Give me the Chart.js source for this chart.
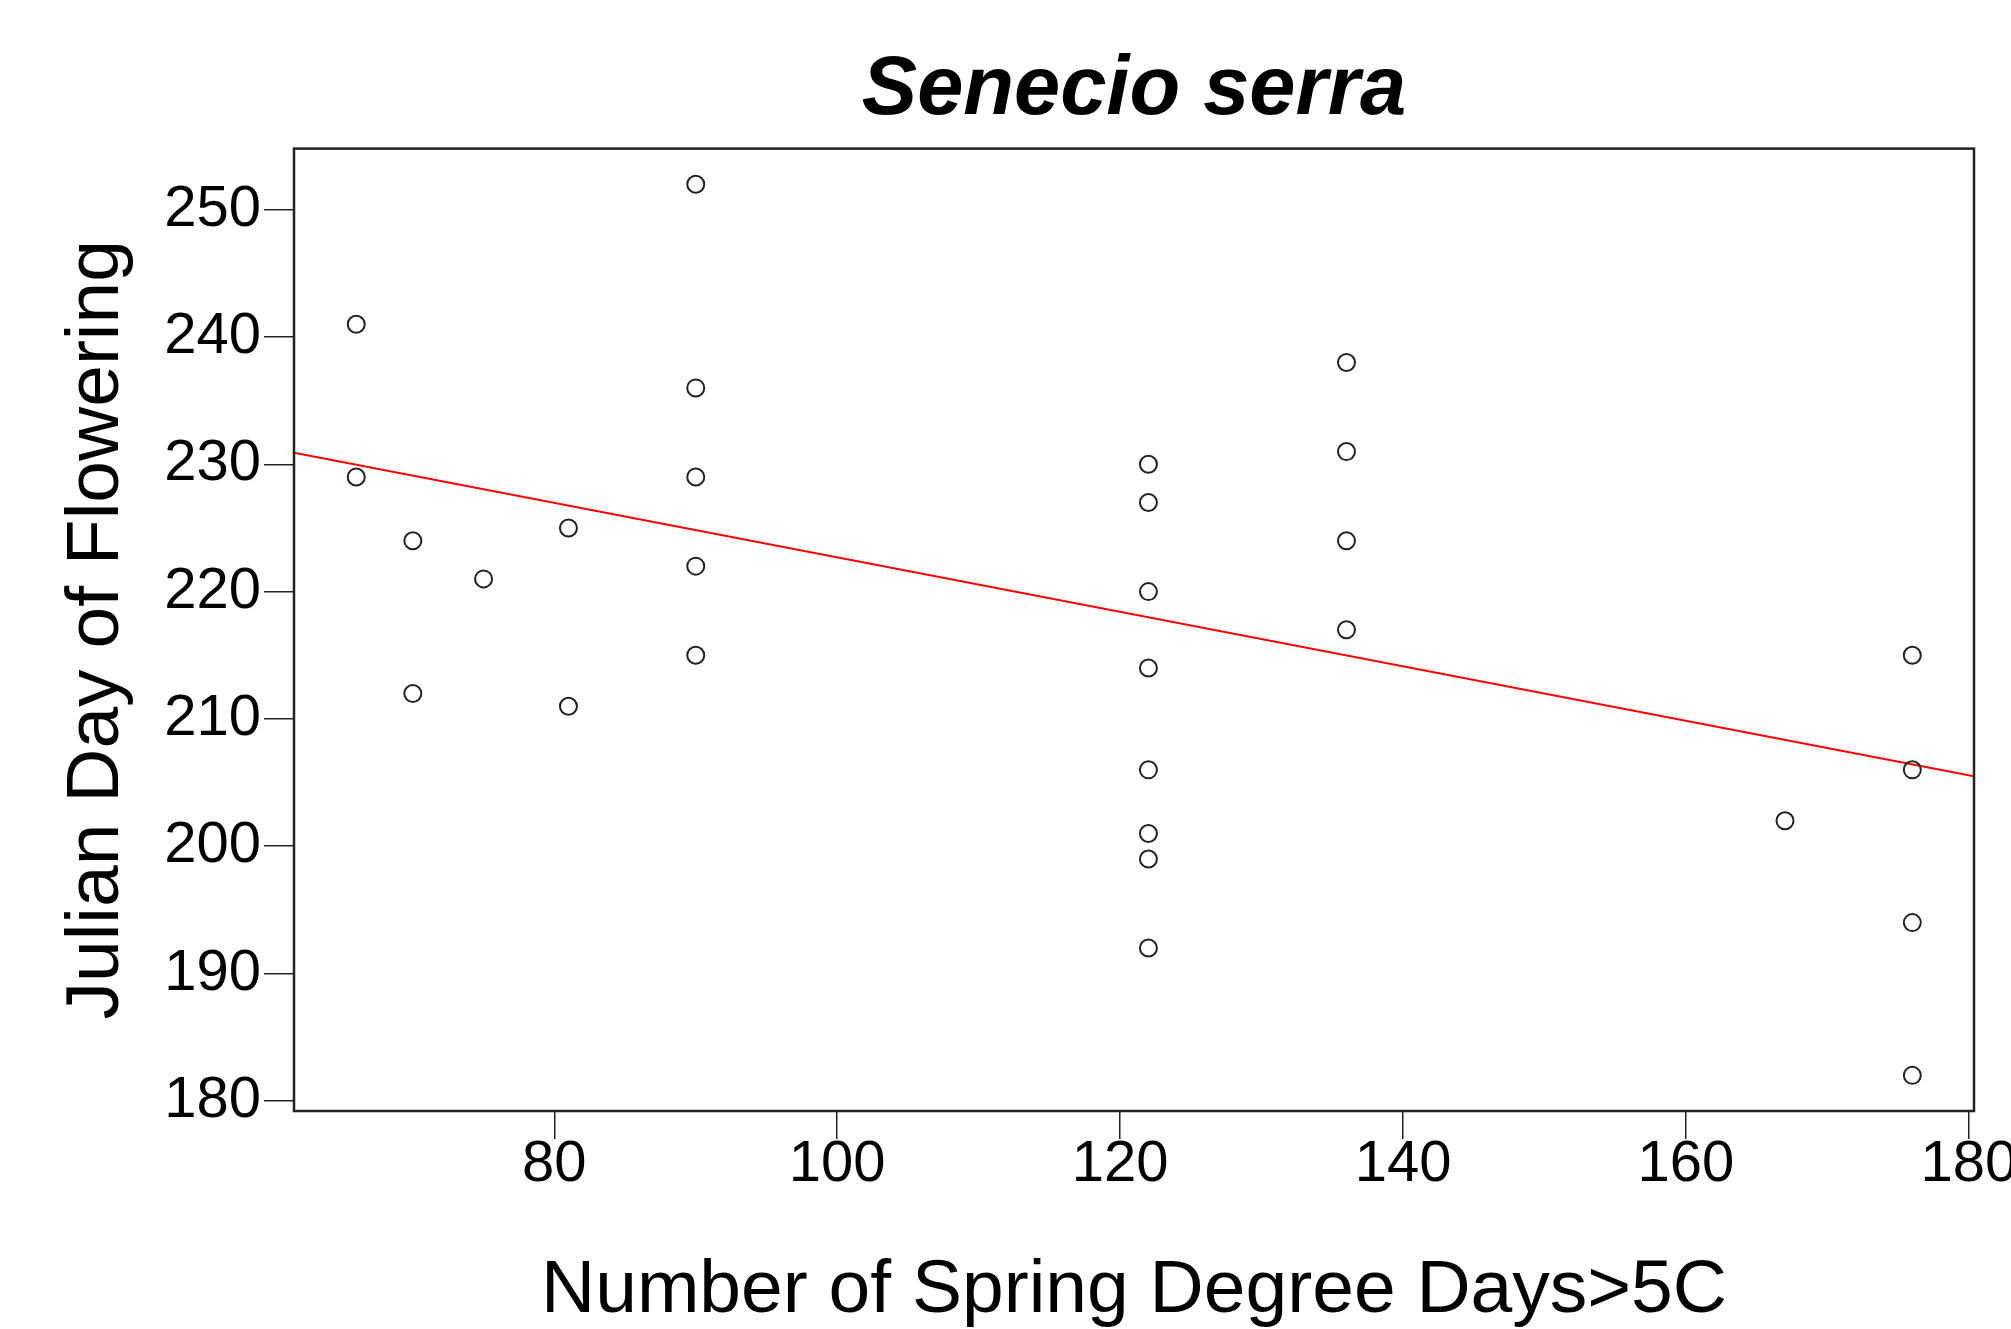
<!DOCTYPE html>
<html>
<head>
<meta charset="utf-8">
<script src="https://cdn.jsdelivr.net/npm/chart.js@4.4.1/dist/chart.umd.min.js"></script>
<style>
  html, body { margin: 0; padding: 0; background: #fff; overflow: hidden; }
  #chart { display: block; }
</style>
</head>
<body>
<canvas id="chart" width="2011" height="1329"></canvas>
<script>
// values
const degreeDays = [66, 66, 70, 70, 75, 81, 81, 90, 90, 90, 90, 90,
  122, 122, 122, 122, 122, 122, 122, 122, 136, 136, 136, 136, 167, 176, 176, 176, 176];
const floweringDay = [241, 229, 224, 212, 221, 225, 211, 252, 236, 229, 222, 215,
  230, 227, 220, 214, 206, 201, 199, 192, 238, 231, 224, 217, 202, 215, 206, 194, 182];

// fitted line, read at the plot edges
const fitX = [61.6, 180.36];
const fitY = [230.9, 205.5];

const xTicks = [80, 100, 120, 140, 160, 180];
const yTicks = [180, 190, 200, 210, 220, 230, 240, 250];
const xRange = [61.6, 180.36];
const yRange = [179.2, 254.8];

const FONT = '"Liberation Sans", Arial, sans-serif';

// box round the plot area
const framePlugin = {
  id: 'frame',
  afterDatasetsDraw(chart) {
    const { ctx, chartArea: a } = chart;
    ctx.save();
    ctx.strokeStyle = '#222';
    ctx.lineWidth = 2.5;
    ctx.strokeRect(a.left, a.top, a.right - a.left, a.bottom - a.top);
    ctx.restore();
  }
};

new Chart(document.getElementById('chart').getContext('2d'), {
  type: 'scatter',
  data: {
    datasets: [
      {
        label: 'fit',
        data: fitX.map((x, i) => ({ x, y: fitY[i] })),
        showLine: true,
        borderColor: '#ff0000',
        borderWidth: 2,
        pointRadius: 0,
        order: 2
      },
      {
        label: 'obs',
        data: degreeDays.map((x, i) => ({ x, y: floweringDay[i] })),
        pointRadius: 8.5,
        pointBorderWidth: 2,
        pointBorderColor: '#222',
        pointBackgroundColor: 'rgba(0,0,0,0)',
        order: 1
      }
    ]
  },
  options: {
    responsive: false,
    devicePixelRatio: 1,
    animation: false,
    layout: { padding: { top: 0, left: 0, right: 37, bottom: 0 } },
    plugins: {
      legend: { display: false },
      tooltip: { enabled: false },
      title: {
        display: true,
        text: 'Senecio serra',
        color: '#000',
        fullSize: false,
        font: { family: FONT, size: 83, weight: 'bold', style: 'italic', lineHeight: 1.2 },
        padding: { top: 41, bottom: 8 }
      }
    },
    scales: {
      x: {
        type: 'linear',
        position: 'bottom',
        min: xRange[0],
        max: xRange[1],
        afterBuildTicks: (s) => { s.ticks = xTicks.map(v => ({ value: v })); },
        afterFit: (s) => { s.height = 218; s.paddingLeft = 0; s.paddingRight = 0; },
        border: { display: false },
        grid: { drawOnChartArea: false, tickLength: 28, color: '#222', lineWidth: 1.5 },
        ticks: { color: '#000', padding: -9, maxRotation: 0, autoSkip: false,
          font: { family: FONT, size: 58 } },
        title: {
          display: true,
          text: 'Number of Spring Degree Days>5C',
          color: '#000',
          font: { family: FONT, size: 75, lineHeight: 1 },
          padding: { top: 0, bottom: 0 }
        }
      },
      y: {
        type: 'linear',
        position: 'left',
        min: yRange[0],
        max: yRange[1],
        afterBuildTicks: (s) => { s.ticks = yTicks.map(v => ({ value: v })); },
        afterFit: (s) => { s.width = 294; s.paddingTop = 0; s.paddingBottom = 0; },
        border: { display: false },
        grid: { drawOnChartArea: false, tickLength: 30, color: '#222', lineWidth: 1.5 },
        ticks: { color: '#000', padding: 3, autoSkip: false,
          font: { family: FONT, size: 58 } },
        title: {
          display: true,
          text: 'Julian Day of Flowering',
          color: '#000',
          font: { family: FONT, size: 75, lineHeight: 1 },
          padding: { top: 60, bottom: 0 }
        }
      }
    }
  },
  plugins: [framePlugin]
});
</script>
</body>
</html>
